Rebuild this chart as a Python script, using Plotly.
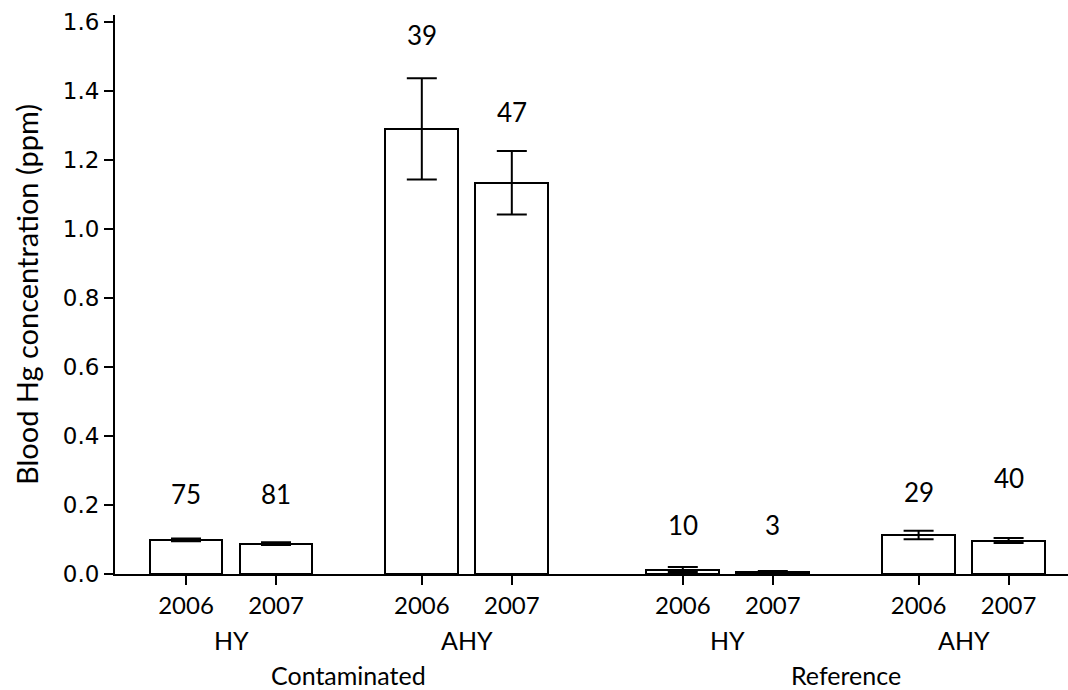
import plotly.graph_objects as go

# Blood mercury by site, age class and year
sites = ["Contaminated", "Reference"]
age_classes = ["HY", "AHY", "HY", "AHY"]
years = ["2006", "2007"]
hg_mean = [0.099, 0.088, 1.290, 1.134, 0.013, 0.006, 0.113, 0.097]
hg_err = [0.004, 0.004, 0.147, 0.092, 0.007, 0.003, 0.012, 0.007]
n_birds = [75, 81, 39, 47, 10, 3, 29, 40]
n_label_y = [0.232, 0.232, 1.562, 1.340, 0.142, 0.142, 0.237, 0.277]

# x layout: one unit per bar slot, age-class pairs spaced apart
group_centers = [0.5, 3.12, 6.02, 8.64]
x_pos = [c + d for c in group_centers for d in (-0.5, 0.5)]
site_centers = [(group_centers[0] + group_centers[1]) / 2,
                (group_centers[2] + group_centers[3]) / 2]
year_text = [years[i % 2] for i in range(len(x_pos))]

W, H = 1068, 690
M_L, M_R, M_T, M_B = 115, 0, 15, 116
plot_h = H - M_T - M_B

TEXT_FONT = "Lato"
fig = go.Figure()
fig.add_trace(go.Bar(
    x=x_pos, y=hg_mean, width=0.81,
    marker=dict(color="white", line=dict(color="black", width=2)),
    error_y=dict(type="data", array=hg_err, visible=True,
                 color="black", thickness=2, width=15),
    showlegend=False, hoverinfo="skip",
))

annotations = []
for x, n, ly in zip(x_pos, n_birds, n_label_y):
    annotations.append(dict(x=x, y=ly, xref="x", yref="y", text=str(n),
                            showarrow=False, yanchor="middle",
                            font=dict(family=TEXT_FONT, size=26, color="black")))

def paper_y(px):
    return -(px - (H - M_B)) / plot_h

for c, lab in zip(group_centers, age_classes):
    annotations.append(dict(x=c, y=paper_y(640), xref="x", yref="paper", text=lab,
                            showarrow=False, yanchor="middle",
                            font=dict(family=TEXT_FONT, size=25, color="black")))
for c, lab in zip(site_centers, sites):
    annotations.append(dict(x=c, y=paper_y(675), xref="x", yref="paper", text=lab,
                            showarrow=False, yanchor="middle",
                            font=dict(family=TEXT_FONT, size=25, color="black")))

fig.update_layout(
    width=W, height=H,
    margin=dict(l=M_L, r=M_R, t=M_T, b=M_B),
    paper_bgcolor="white", plot_bgcolor="white",
    annotations=annotations,
    bargap=0,
)
fig.update_xaxes(
    range=[-0.789, 9.8], showgrid=False, zeroline=False,
    showline=True, linecolor="black", linewidth=2,
    tickmode="array", tickvals=x_pos, ticktext=year_text,
    ticks="outside", ticklen=9, tickwidth=2, tickcolor="black",
    tickfont=dict(family=TEXT_FONT, size=24, color="black"),
)
fig.update_yaxes(
    range=[0, 1.62], showgrid=False, zeroline=False,
    showline=True, linecolor="black", linewidth=2,
    tickmode="array", tickvals=[0, 0.2, 0.4, 0.6, 0.8, 1.0, 1.2, 1.4, 1.6],
    tickformat=".1f",
    ticks="outside", ticklen=9, tickwidth=2, tickcolor="black",
    tickfont=dict(family="DejaVu Sans", size=23, color="black"),
    title=dict(text="Blood Hg concentration (ppm)",
               font=dict(family=TEXT_FONT, size=29, color="black"), standoff=16),
)

fig.write_html("out.html")
